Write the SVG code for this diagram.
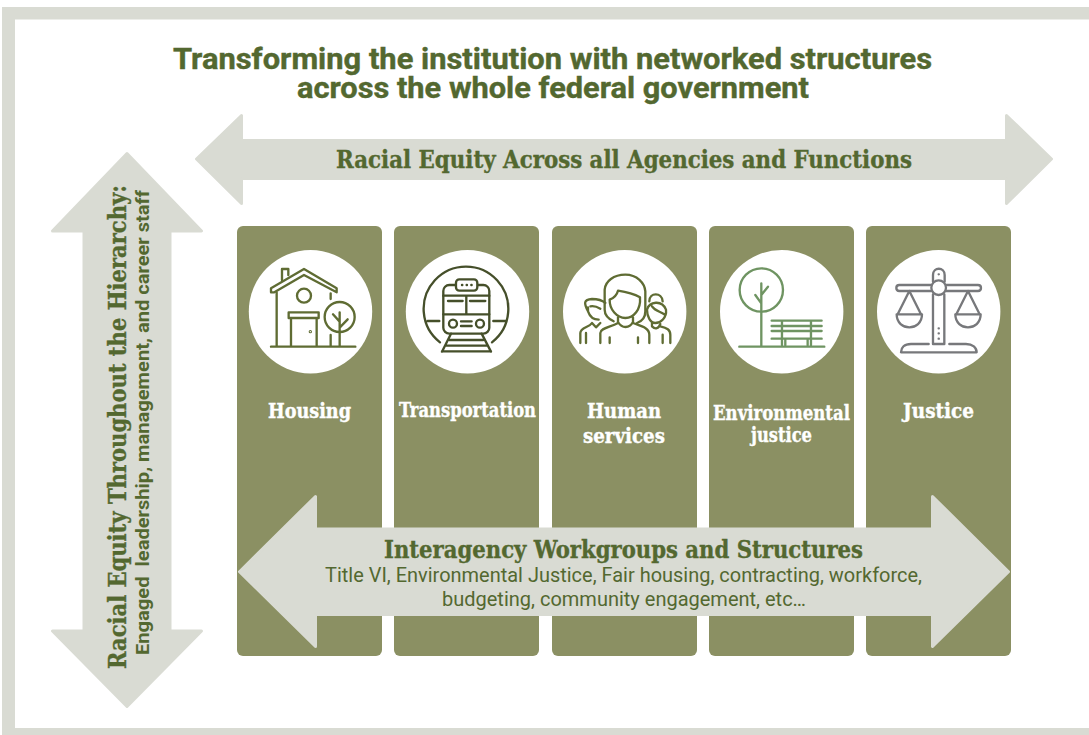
<svg xmlns="http://www.w3.org/2000/svg" width="1089" height="735" viewBox="0 0 1089 735">
<style>
.band{fill:#d9dbd3}
.arrow{fill:#d9dbd3;stroke:#d9dbd3;stroke-width:3;stroke-linejoin:round}
.card{fill:#8b9063}
.disc{fill:#fff}
.slab{font-family:"DejaVu Serif Condensed","DejaVu Serif","Liberation Serif",serif;font-weight:700;white-space:pre;stroke-width:.35}
.sans{font-family:Roboto,"Liberation Sans",sans-serif;white-space:pre}
.dark{fill:#536830}
.slab.dark{stroke:#536830}
.lab{fill:#fff;stroke:#fff;font-size:20px}
.ic{fill:none;stroke-width:7;stroke-linecap:round;stroke-linejoin:round}
.ol{stroke:#5f6c33}
.tr{stroke:#454f2a}
.be{stroke:#6f9462}
.sc{stroke:#77787b}
</style>
<rect width="1089" height="735" fill="#fff"/>
<g id="frame">
<rect class="band" x="2" y="7" width="1087" height="12.5"/>
<rect class="band" x="2" y="7" width="13" height="728"/>
<rect class="band" x="2" y="728" width="1087" height="7"/>
</g>
<g id="title">
<text class="sans dark" font-weight="700" stroke="#536830" stroke-width=".4" font-size="29" x="173" y="69" textLength="759" lengthAdjust="spacingAndGlyphs">Transforming the institution with networked structures</text>
<text class="sans dark" font-weight="700" stroke="#536830" stroke-width=".4" font-size="29" x="297" y="98" textLength="512" lengthAdjust="spacingAndGlyphs">across the whole federal government</text>
</g>
<g id="card-housing">
<rect class="card" x="237" y="226" width="145" height="430" rx="6"/>
<circle class="disc" cx="310.5" cy="311.7" r="61.7"/>
<g class="ic ol" transform="translate(236 225) scale(.3333)">
<path d="M138 165V132H157V150"/>
<path d="M105 190L204 132L302 190V202L204 150L115 202H105Z"/>
<path d="M122 202V362M284 205V222M284 330V362"/>
<circle cx="204" cy="212" r="21"/>
<path d="M158 262H248V279H158ZM165 279V362M242 279V362"/>
<circle cx="223" cy="320" r="1.500"/>
<circle cx="311" cy="276" r="45"/>
<path d="M311 262V362M311 290L291 268M311 308L335 283"/>
<path d="M105 365H358"/>
</g>
<text class="slab lab" x="268" y="418" textLength="83" lengthAdjust="spacingAndGlyphs">Housing</text>
</g>
<g id="card-transportation">
<rect class="card" x="394" y="226" width="145" height="430" rx="6"/>
<circle class="disc" cx="467.5" cy="311.7" r="61.7"/>
<g class="ic tr" transform="translate(236 225) scale(.3333)">
<path d="M612 352A127 127 0 1 1 768 352M575 288H610M772 288H808"/>
<rect x="622" y="180" width="138" height="146" rx="18"/>
<rect x="660" y="163" width="64" height="34" rx="10" fill="#fff"/>
<path d="M678 180h1M692 180h1M706 180h1"/>
<path d="M622 268H760M691 212V268M622 212H760M636 228H680M702 228H748"/>
<circle cx="651" cy="296" r="12"/><circle cx="732" cy="296" r="12"/>
<path d="M675 289H707M675 303H707"/>
<path d="M645 326L618 380M737 326L765 380M640 345H742M630 362H752M618 379H765"/>
</g>
<text class="slab lab" x="399" y="417" textLength="137" lengthAdjust="spacingAndGlyphs">Transportation</text>
</g>
<g id="card-human-services">
<rect class="card" x="552" y="226" width="145" height="430" rx="6"/>
<circle class="disc" cx="624.7" cy="311.7" r="61.7"/>
<g class="ic ol" transform="translate(572 268) scale(.3333)">
<path d="M125 160C105 150 98 140 98 125V65C100 40 125 20 160 20C195 20 218 45 220 70V130C220 150 210 160 195 165"/>
<path d="M113 95C125 90 135 80 138 68C165 72 190 80 204 88C207 125 185 150 160 150C135 150 112 125 113 95Z"/>
<path d="M138 148V162C150 182 172 182 183 162V148"/>
<path d="M85 225V195C85 180 115 178 138 165M183 165C210 175 232 180 232 200V225M113 208V225M198 208V225"/>
<path d="M48 130C35 105 35 95 60 93C78 93 92 98 100 105M48 118V130C55 150 68 155 80 155M55 115C65 113 75 116 85 122"/>
<path d="M25 225V195C25 178 52 178 60 165L72 178L85 165M42 195V225"/>
<path d="M232 100C232 72 270 72 272 100"/>
<path d="M225 125C232 100 270 95 282 125C285 150 265 165 250 165C235 165 225 145 225 125ZM240 115C250 130 265 130 278 140"/>
<path d="M240 165V175C250 185 260 182 265 168M265 175C285 180 295 185 295 200V225M272 200V225"/>
</g>
<text class="slab lab" x="587" y="418" textLength="74" lengthAdjust="spacingAndGlyphs">Human</text>
<text class="slab lab" x="583" y="443" textLength="82" lengthAdjust="spacingAndGlyphs">services</text>
</g>
<g id="card-environmental-justice">
<rect class="card" x="709" y="226" width="145" height="430" rx="6"/>
<circle class="disc" cx="781.7" cy="311.7" r="61.7"/>
<g class="ic be" transform="translate(546 225) scale(.3333)">
<circle cx="646" cy="195" r="65"/>
<path d="M646 175V362M646 235L628 210M646 210L666 185"/>
<path d="M580 365H835M677 287H827M677 303H827M677 318H827M677 341H827M708 287V360M795 287V360M718 345V360M785 345V360"/>
</g>
<text class="slab lab" x="713" y="420" textLength="137" lengthAdjust="spacingAndGlyphs">Environmental</text>
<text class="slab lab" x="751" y="442" textLength="61" lengthAdjust="spacingAndGlyphs">justice</text>
</g>
<g id="card-justice">
<rect class="card" x="866" y="226" width="145" height="430" rx="6"/>
<circle class="disc" cx="938.7" cy="311.7" r="61.7"/>
<g class="ic sc" transform="translate(856 225) scale(.3333)">
<path d="M231 170V150C231 125 266 125 266 150V170"/>
<path d="M248 148h.5M248 310h.5M248 325h.5M248 341h.5"/>
<circle cx="248" cy="188" r="22"/>
<path d="M226 180H130C118 180 118 198 130 198H226M270 180H366C378 180 378 198 366 198H270"/>
<path d="M231 208V357H265V208"/>
<path d="M160 198L125 268H195ZM122 268C122 320 198 320 198 268"/>
<path d="M336 198L301 268H371ZM298 268C298 320 374 320 374 268"/>
<path d="M218 357H165C145 357 135 368 135 382H362C362 368 350 357 330 357H280"/>
</g>
<text class="slab lab" x="903" y="418" textLength="71" lengthAdjust="spacingAndGlyphs">Justice</text>
</g>
<g id="connectors">
<path class="arrow" d="M196.500 159L241.500 115.500V140.500H1006.500V115.500L1051.500 159L1006.500 203.500V178.500H241.500V203.500Z"/>
<path class="arrow" d="M127 153.500L201.500 231H170V631H201.500L127 706.500L52.500 631H84V231H52.500Z"/>
<path class="arrow" d="M239.500 571.700L315.500 496.500V529H932.500V496.500L1008.500 571.700L932.500 646.500V614.500H315.500V646.500Z"/>
</g>
<g id="label-across">
<text class="slab dark" font-size="24" x="336" y="168" textLength="576" lengthAdjust="spacingAndGlyphs">Racial Equity Across all Agencies and Functions</text>
</g>
<g id="label-hierarchy">
<text class="slab dark" font-size="25" transform="translate(126 669) rotate(-90)" textLength="484" lengthAdjust="spacingAndGlyphs">Racial Equity Throughout the Hierarchy:</text>
<text class="sans dark" font-weight="700" font-size="18.700" transform="translate(149 655) rotate(-90)" textLength="465" lengthAdjust="spacingAndGlyphs">Engaged  leadership, management, and career staff</text>
</g>
<g id="label-interagency">
<text class="slab dark" font-size="25" x="384" y="558" textLength="479" lengthAdjust="spacingAndGlyphs">Interagency Workgroups and Structures</text>
<text class="sans dark" font-size="21" x="325" y="582" textLength="597" lengthAdjust="spacingAndGlyphs">Title VI, Environmental Justice, Fair housing, contracting, workforce,</text>
<text class="sans dark" font-size="21" x="442" y="606" textLength="364" lengthAdjust="spacingAndGlyphs">budgeting, community engagement, etc…</text>
</g>
</svg>
